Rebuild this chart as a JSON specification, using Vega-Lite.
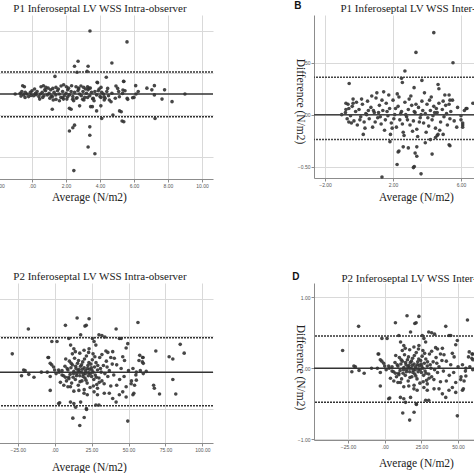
{
"$schema":"https://vega.github.io/schema/vega-lite/v6.json",
"padding":{"left":-14,"top":0,"right":0,"bottom":0},
"background":"white",
"bounds":"flush",
"columns":2,
"spacing":{"row":104,"column":101},
"config":{
 "view":{"stroke":null},
 "axis":{"gridColor":"#d9d9d9","gridWidth":1,"domainColor":"#8c8c8c","domainWidth":1,"tickColor":"#8c8c8c","tickSize":3,"labelFont":"Liberation Sans","labelFontSize":5,"labelColor":"#555","labelPadding":1,"labelOverlap":false,"labelFlush":false,"titleFont":"Liberation Serif","titleFontSize":11.5,"titleFontWeight":"normal","titleColor":"#222"},
 "title":{"font":"Liberation Serif","fontSize":11,"fontWeight":"normal","color":"#222","offset":1}
},
"datasets":{
 "A":[{"x":3.41,"y":0.75},{"x":5.59,"y":0.62},{"x":2.71,"y":0.39},{"x":2.5,"y":0.33},{"x":3.3,"y":0.33},{"x":4.7,"y":0.37},{"x":3.24,"y":0.27},{"x":2.65,"y":0.26},{"x":1.35,"y":0.21},{"x":4.37,"y":0.2},{"x":5.4,"y":0.15},{"x":3.83,"y":0.14},
 {"x":1.19,"y":-0.18},{"x":2.2,"y":-0.17},{"x":2.3,"y":-0.18},{"x":2.8,"y":-0.14},{"x":3.45,"y":-0.15},{"x":3.55,"y":-0.15},{"x":3.8,"y":-0.2},{"x":4.05,"y":-0.14},{"x":4.76,"y":-0.25},{"x":5.15,"y":-0.2},{"x":5.25,"y":-0.21},{"x":4.1,"y":-0.29},{"x":5.3,"y":-0.32},{"x":5.4,"y":-0.33},{"x":7.24,"y":-0.29},{"x":2.5,"y":-0.37},{"x":2.4,"y":-0.4},{"x":2.2,"y":-0.44},{"x":3.4,"y":-0.39},{"x":3.4,"y":-0.49},{"x":3.3,"y":-0.63},{"x":3.7,"y":-0.71},{"x":2.46,"y":-0.91},
 {"x":6.76,"y":0.07},{"x":7.05,"y":0.05},{"x":7.2,"y":0.1},{"x":7.8,"y":0.05},{"x":7.2,"y":-0.01},{"x":7.65,"y":-0.06},{"x":8.24,"y":-0.09},{"x":9.0,"y":0.0},{"x":6.1,"y":0.1},{"x":6.25,"y":0.03},{"x":6.0,"y":-0.04},{"x":5.6,"y":-0.05},{"x":-0.99,"y":0.0},
 {"x":-0.55,"y":0.099},{"x":-0.45,"y":0.087},{"x":0.53,"y":0.087},{"x":0.67,"y":0.099},{"x":0.82,"y":0.079},{"x":1.22,"y":0.067},{"x":1.41,"y":0.079},{"x":1.71,"y":0.095},{"x":1.86,"y":0.111},{"x":2.02,"y":0.087},{"x":2.33,"y":0.099},{"x":2.59,"y":0.087},{"x":2.73,"y":0.071},{"x":2.88,"y":0.095},{"x":3.04,"y":0.079},{"x":3.27,"y":0.087},{"x":3.43,"y":0.071},{"x":3.86,"y":0.135},{"x":4.06,"y":0.079},{"x":4.45,"y":0.067},{"x":4.94,"y":0.095},{"x":5.04,"y":0.067},{"x":5.35,"y":0.048},{"x":5.47,"y":0.04},{"x":5.39,"y":0.151},
 {"x":-0.65,"y":-0.024},{"x":-0.41,"y":-0.04},{"x":-0.06,"y":-0.016},{"x":0.24,"y":-0.008},{"x":0.63,"y":-0.04},{"x":1.12,"y":-0.024},{"x":1.41,"y":-0.063},{"x":1.61,"y":-0.079},{"x":1.8,"y":-0.044},{"x":2.1,"y":-0.032},{"x":2.39,"y":-0.063},{"x":2.65,"y":-0.044},{"x":2.98,"y":-0.063},{"x":3.27,"y":-0.04},{"x":3.57,"y":-0.055},{"x":4.06,"y":-0.04},{"x":4.25,"y":-0.032},{"x":4.55,"y":-0.071},{"x":4.65,"y":-0.091},{"x":5.14,"y":-0.032},{"x":5.33,"y":0.008},{"x":5.63,"y":-0.063},{"x":5.92,"y":-0.044},{"x":6.12,"y":0.0},
 {"x":-0.7,"y":0.01},{"x":-0.6,"y":0.03},{"x":-0.5,"y":-0.01},{"x":-0.4,"y":0.02},{"x":-0.3,"y":0.0},{"x":-0.2,"y":-0.03},{"x":-0.1,"y":0.02},{"x":0.0,"y":0.04},{"x":0.1,"y":-0.02},{"x":0.2,"y":0.01},{"x":0.3,"y":0.03},{"x":0.4,"y":-0.03},{"x":0.5,"y":0.0},{"x":0.6,"y":0.02},{"x":0.7,"y":-0.02},{"x":0.8,"y":0.04},{"x":0.9,"y":-0.01},{"x":1.0,"y":0.01},{"x":1.1,"y":0.05},{"x":1.2,"y":-0.03},{"x":1.3,"y":0.02},{"x":1.4,"y":-0.01},{"x":1.5,"y":0.04},{"x":1.6,"y":0.0},{"x":1.7,"y":-0.04},{"x":1.8,"y":0.03},{"x":1.9,"y":-0.02},{"x":2.0,"y":0.01},{"x":2.1,"y":0.05},{"x":2.2,"y":-0.01},{"x":2.3,"y":0.03},{"x":2.4,"y":-0.03},{"x":2.5,"y":0.02},{"x":2.6,"y":-0.05},{"x":2.7,"y":0.04},{"x":2.8,"y":0.0},{"x":2.9,"y":-0.02},{"x":3.0,"y":0.03},{"x":3.1,"y":-0.04},{"x":3.2,"y":0.01},{"x":3.3,"y":0.05},{"x":3.4,"y":-0.02},{"x":3.5,"y":0.02},{"x":3.6,"y":-0.05},{"x":3.7,"y":0.03},{"x":3.8,"y":-0.01},{"x":3.9,"y":0.04},{"x":4.0,"y":-0.03},{"x":4.1,"y":0.02},{"x":4.2,"y":0.0},{"x":4.3,"y":-0.05},{"x":4.4,"y":0.03},{"x":4.5,"y":-0.02},{"x":4.7,"y":0.01},{"x":4.9,"y":-0.05},{"x":5.1,"y":0.03},
 {"x":0.15,"y":0.06},{"x":0.45,"y":-0.06},{"x":0.95,"y":0.07},{"x":1.25,"y":-0.07},{"x":1.55,"y":0.06},{"x":1.85,"y":-0.06},{"x":2.15,"y":0.07},{"x":2.45,"y":-0.08},{"x":2.75,"y":0.06},{"x":3.05,"y":-0.07},{"x":3.35,"y":0.07},{"x":3.65,"y":-0.08},{"x":3.95,"y":0.06},{"x":4.25,"y":-0.07},{"x":1.05,"y":-0.05},{"x":2.05,"y":-0.06},{"x":3.15,"y":0.06},{"x":0.75,"y":0.05}],
 "A_lines":[{"y":0.0,"k":"mean"},{"y":0.262,"k":"limit"},{"y":-0.27,"k":"limit"}],
 "B":[{"x":4.4,"y":0.79},{"x":3.35,"y":0.6},{"x":5.53,"y":0.5},{"x":2.7,"y":0.42},{"x":2.5,"y":0.35},{"x":2.55,"y":0.31},{"x":3.7,"y":0.33},{"x":-0.58,"y":0.3},{"x":4.65,"y":0.29},{"x":4.7,"y":0.25},{"x":3.24,"y":0.26},{"x":5.3,"y":0.19},{"x":5.35,"y":0.14},{"x":5.3,"y":0.1},{"x":6.7,"y":0.11},{"x":6.3,"y":0.06},{"x":6.35,"y":0.06},
 {"x":1.82,"y":-0.26},{"x":2.3,"y":-0.36},{"x":2.35,"y":-0.35},{"x":2.24,"y":-0.48},{"x":2.6,"y":-0.31},{"x":2.9,"y":-0.32},{"x":3.3,"y":-0.37},{"x":3.4,"y":-0.31},{"x":3.4,"y":-0.4},{"x":3.2,"y":-0.51},{"x":3.25,"y":-0.5},{"x":3.65,"y":-0.57},{"x":1.35,"y":-0.6},{"x":3.9,"y":-0.27},{"x":4.3,"y":-0.38},{"x":4.2,"y":-0.24},{"x":4.5,"y":-0.22},{"x":4.6,"y":-0.2},{"x":5.3,"y":-0.29},{"x":5.35,"y":-0.3},{"x":4.95,"y":-0.19},{"x":6.1,"y":-0.1},{"x":6.1,"y":-0.12},{"x":6.0,"y":-0.05},{"x":-1.02,"y":0.0},{"x":-0.77,"y":0.11},{"x":-0.77,"y":0.05},{"x":-0.6,"y":-0.07},{"x":-0.35,"y":0.15},{"x":-0.35,"y":0.11},{"x":0.25,"y":-0.19},
 {"x":-0.8,"y":0.02},{"x":-0.7,"y":-0.04},{"x":-0.6,"y":0.06},{"x":-0.5,"y":-0.01},{"x":-0.4,"y":0.08},{"x":-0.3,"y":-0.06},{"x":-0.2,"y":0.03},{"x":-0.1,"y":-0.1},{"x":0.0,"y":0.05},{"x":0.1,"y":-0.02},{"x":0.2,"y":0.1},{"x":0.3,"y":-0.07},{"x":0.4,"y":0.01},{"x":0.5,"y":0.13},{"x":0.6,"y":-0.04},{"x":0.7,"y":0.07},{"x":0.8,"y":-0.12},{"x":0.9,"y":0.02},{"x":1.0,"y":0.16},{"x":1.1,"y":-0.03},{"x":1.2,"y":0.09},{"x":1.3,"y":-0.09},{"x":1.4,"y":0.04},{"x":1.5,"y":-0.15},{"x":1.6,"y":0.11},{"x":1.7,"y":-0.01},{"x":1.8,"y":0.06},{"x":1.9,"y":-0.08},{"x":2.0,"y":0.14},{"x":2.1,"y":0.0},{"x":2.2,"y":-0.12},{"x":2.3,"y":0.08},{"x":2.4,"y":-0.05},{"x":2.5,"y":0.03},{"x":2.6,"y":-0.17},{"x":2.7,"y":0.12},{"x":2.8,"y":-0.02},{"x":2.9,"y":0.05},{"x":3.0,"y":-0.1},{"x":3.1,"y":0.09},{"x":3.2,"y":-0.06},{"x":3.3,"y":0.02},{"x":3.4,"y":-0.14},{"x":3.5,"y":0.07},{"x":3.6,"y":-0.03},{"x":3.7,"y":0.13},{"x":3.8,"y":-0.08},{"x":3.9,"y":0.01},{"x":4.0,"y":0.1},{"x":4.1,"y":-0.11},{"x":4.2,"y":0.04},{"x":4.3,"y":-0.05},{"x":4.4,"y":0.08},{"x":4.5,"y":-0.13},{"x":4.6,"y":0.02},{"x":4.7,"y":0.11},{"x":4.8,"y":-0.07},{"x":4.9,"y":0.05},{"x":5.0,"y":-0.02},{"x":5.1,"y":0.09},{"x":5.2,"y":-0.1},{"x":5.4,"y":0.03},{"x":5.6,"y":-0.06},{"x":5.8,"y":0.07},{"x":6.0,"y":-0.01},{"x":6.2,"y":0.04},
 {"x":-0.65,"y":0.1},{"x":-0.45,"y":-0.08},{"x":-0.15,"y":0.12},{"x":0.15,"y":0.15},{"x":0.35,"y":-0.13},{"x":0.55,"y":0.04},{"x":0.75,"y":0.18},{"x":0.95,"y":-0.07},{"x":1.15,"y":0.02},{"x":1.35,"y":0.14},{"x":1.55,"y":-0.05},{"x":1.75,"y":0.19},{"x":1.95,"y":-0.13},{"x":2.15,"y":0.06},{"x":2.35,"y":0.17},{"x":2.55,"y":-0.09},{"x":2.75,"y":0.0},{"x":2.95,"y":0.15},{"x":3.15,"y":-0.16},{"x":3.35,"y":0.1},{"x":3.55,"y":-0.07},{"x":3.75,"y":0.04},{"x":3.95,"y":-0.17},{"x":4.15,"y":0.14},{"x":4.35,"y":-0.01},{"x":4.55,"y":0.06},{"x":4.75,"y":-0.15},{"x":4.95,"y":0.13},{"x":5.15,"y":0.01},{"x":5.35,"y":-0.04},{"x":0.05,"y":-0.05},{"x":0.45,"y":0.0},{"x":0.85,"y":0.04},{"x":1.25,"y":-0.02},{"x":1.65,"y":0.03},{"x":2.05,"y":-0.04},{"x":2.45,"y":0.01},{"x":2.85,"y":-0.05},{"x":3.25,"y":0.03},{"x":3.65,"y":0.0},{"x":4.05,"y":-0.03},{"x":4.45,"y":0.02},{"x":1.05,"y":0.21},{"x":1.45,"y":0.22},{"x":2.25,"y":0.2},{"x":3.05,"y":0.18},{"x":3.85,"y":0.21},{"x":4.25,"y":0.17},{"x":5.05,"y":0.19},{"x":5.5,"y":0.14},{"x":1.85,"y":-0.19},{"x":2.65,"y":-0.2},{"x":3.45,"y":-0.21},{"x":4.65,"y":-0.19},{"x":5.75,"y":-0.12},{"x":6.1,"y":-0.08}],
 "B_lines":[{"y":0.0,"k":"mean"},{"y":0.36,"k":"limit"},{"y":-0.24,"k":"limit"}],
 "P2":[{"x":15.2,"y":0.74},{"x":23.3,"y":0.73},{"x":7.3,"y":0.64},{"x":20.5,"y":0.63},{"x":21.4,"y":0.64},{"x":-17.8,"y":0.59},{"x":56.4,"y":0.68},{"x":41.6,"y":0.59},{"x":-28.7,"y":0.25},{"x":85,"y":0.38},{"x":87.7,"y":0.26},{"x":77.5,"y":0.21},{"x":80,"y":0.18},{"x":68.5,"y":0.29},{"x":59.6,"y":0.2},{"x":60,"y":0.12},{"x":80,"y":-0.1},{"x":82,"y":-0.3},{"x":71,"y":-0.3},{"x":67,"y":-0.18},{"x":67.5,"y":-0.22},{"x":49.5,"y":-0.67},{"x":17,"y":-0.73},{"x":12.3,"y":-0.63},{"x":20,"y":-0.62},{"x":21.6,"y":-0.51},{"x":-3,"y":-0.25},{"x":3.4,"y":-0.42},{"x":-22.4,"y":-0.05},{"x":-14,"y":-0.07},{"x":-21,"y":0.03},{"x":-20,"y":0.02},{"x":-17.5,"y":-0.03},{"x":-9,"y":0.0},{"x":-4.5,"y":0.2},{"x":-1.9,"y":0.42},{"x":1.6,"y":0.42},{"x":-2,"y":0.1},
 {"x":9.6,"y":0.46},{"x":17.6,"y":0.51},{"x":25.6,"y":0.46},{"x":26.7,"y":0.42},{"x":30,"y":0.51},{"x":32,"y":0.5},{"x":34,"y":0.48},{"x":43.8,"y":0.46},{"x":45,"y":0.46},{"x":49.5,"y":0.39},{"x":48.4,"y":0.33},{"x":10.8,"y":0.37},{"x":13,"y":0.32},{"x":19.9,"y":0.3},{"x":23.3,"y":0.32},{"x":27.9,"y":0.37},{"x":34.7,"y":0.29},{"x":39.3,"y":0.28},{"x":40.4,"y":0.19},{"x":46.1,"y":0.21},{"x":47.3,"y":0.16},{"x":57.6,"y":0.23},{"x":59.8,"y":0.2},{"x":59.4,"y":0.14},{"x":57.1,"y":0.16},{"x":53,"y":0.05},{"x":55.3,"y":0.0},{"x":-4.1,"y":0.2},{"x":-3,"y":0.12},{"x":-0.7,"y":0.07},{"x":2.7,"y":0.03},{"x":5,"y":-0.04},{"x":7.3,"y":-0.07},{"x":9.6,"y":-0.09},{"x":3.9,"y":-0.14},{"x":6.2,"y":-0.18},{"x":10.7,"y":-0.2},{"x":13,"y":-0.26},{"x":16.4,"y":-0.25},{"x":19.9,"y":-0.29},{"x":22.1,"y":-0.31},{"x":26.7,"y":-0.27},{"x":29,"y":-0.31},{"x":33.6,"y":-0.29},{"x":37,"y":-0.29},{"x":39.3,"y":-0.36},{"x":41.6,"y":-0.41},{"x":43.8,"y":-0.31},{"x":46.1,"y":-0.27},{"x":48.4,"y":-0.2},{"x":51.8,"y":-0.16},{"x":54.1,"y":-0.18},{"x":55.3,"y":-0.11},{"x":53,"y":-0.31},{"x":53.6,"y":-0.29},{"x":48.4,"y":-0.34},{"x":10.7,"y":-0.41},{"x":13,"y":-0.43},{"x":17.6,"y":-0.41},{"x":27.9,"y":-0.45},{"x":30,"y":-0.45},{"x":2.7,"y":-0.43},{"x":21.5,"y":-0.5},{"x":14.2,"y":-0.48},{"x":58,"y":0.02},{"x":60,"y":-0.02},{"x":62,"y":0.01},{"x":55,"y":-0.04},
 {"x":5,"y":0.02},{"x":6,"y":-0.05},{"x":7,"y":0.08},{"x":8,"y":-0.12},{"x":9,"y":0.03},{"x":10,"y":0.15},{"x":10.5,"y":-0.03},{"x":11,"y":0.06},{"x":11.5,"y":-0.15},{"x":12,"y":0.1},{"x":12.5,"y":-0.07},{"x":13,"y":0.01},{"x":13.5,"y":0.19},{"x":14,"y":-0.1},{"x":14.5,"y":0.05},{"x":15,"y":-0.02},{"x":15.5,"y":0.12},{"x":16,"y":-0.18},{"x":16.5,"y":0.04},{"x":17,"y":-0.05},{"x":17.5,"y":0.08},{"x":18,"y":0.0},{"x":18.5,"y":-0.12},{"x":19,"y":0.14},{"x":19.5,"y":-0.03},{"x":20,"y":0.06},{"x":20.5,"y":-0.08},{"x":21,"y":0.02},{"x":21.5,"y":0.22},{"x":22,"y":-0.15},{"x":22.5,"y":0.09},{"x":23,"y":-0.01},{"x":23.5,"y":0.04},{"x":24,"y":-0.21},{"x":24.5,"y":0.11},{"x":25,"y":-0.06},{"x":25.5,"y":0.17},{"x":26,"y":0.0},{"x":26.5,"y":-0.1},{"x":27,"y":0.07},{"x":27.5,"y":-0.04},{"x":28,"y":0.13},{"x":28.5,"y":-0.17},{"x":29,"y":0.03},{"x":30,"y":-0.08},{"x":30.5,"y":0.2},{"x":31,"y":0.05},{"x":32,"y":-0.12},{"x":33,"y":0.09},{"x":34,"y":-0.02},{"x":35,"y":0.15},{"x":36,"y":-0.06},{"x":37,"y":0.02},{"x":38,"y":-0.19},{"x":39,"y":0.11},{"x":40,"y":-0.04},
 {"x":8.5,"y":0.05},{"x":9.5,"y":-0.07},{"x":11.2,"y":0.12},{"x":12.8,"y":-0.02},{"x":14.2,"y":0.08},{"x":15.8,"y":0.02},{"x":16.2,"y":0.16},{"x":17.2,"y":-0.13},{"x":18.2,"y":0.1},{"x":19.2,"y":-0.06},{"x":20.2,"y":0.18},{"x":21.2,"y":-0.11},{"x":22.2,"y":0.05},{"x":23.2,"y":0.13},{"x":24.2,"y":-0.02},{"x":25.2,"y":0.03},{"x":26.2,"y":-0.19},{"x":27.2,"y":0.21},{"x":28.2,"y":-0.07},{"x":29.2,"y":0.09},{"x":30.2,"y":-0.14},{"x":31.5,"y":0.0},{"x":33.5,"y":-0.16},{"x":35.5,"y":0.07},{"x":18.8,"y":0.04},{"x":20.8,"y":-0.02},{"x":22.8,"y":-0.05},{"x":16.8,"y":0.0},{"x":14.8,"y":-0.05},{"x":24.8,"y":0.06},
 {"x":7.5,"y":0.18},{"x":9,"y":-0.2},{"x":12,"y":0.25},{"x":14,"y":0.28},{"x":17,"y":0.26},{"x":20,"y":-0.24},{"x":23,"y":0.27},{"x":26,"y":0.25},{"x":29,"y":-0.22},{"x":32,"y":0.24},{"x":36,"y":0.27},{"x":38,"y":0.2},{"x":42,"y":0.1},{"x":44,"y":-0.1},{"x":42,"y":-0.18},{"x":45,"y":0.05},{"x":47,"y":-0.06},{"x":50,"y":0.02},{"x":52,"y":-0.12},{"x":3,"y":0.0},{"x":1,"y":-0.02},{"x":0,"y":0.03},{"x":-3,"y":-0.06},{"x":-5,"y":0.0}],
 "C_lines":[{"y":0.0,"k":"mean"},{"y":0.47,"k":"limit"},{"y":-0.46,"k":"limit"}],
 "D_lines":[{"y":0.0,"k":"mean"},{"y":0.455,"k":"limit"},{"y":-0.48,"k":"limit"}]
},
"concat":[
  {"width":226,"height":164,"title":{"text":"P1 Inferoseptal LV WSS Intra-observer"},
   "layer":[
    {"data":{"name":"A"},"mark":{"type":"circle","size":13,"color":"#333","opacity":0.9},
     "encoding":{
      "x":{"field":"x","type":"quantitative","scale":{"domain":[-2.65,10.65],"nice":false,"zero":false},"axis":{"values":[-2,0,2,4,6,8,10],"labelOverlap":false,"labelExpr":"replace(format(datum.value,'.2f'),regexp('^(-?)0[.]'),'$1.')","title":"Average (N/m2)","titleX":102,"titleY":18,"titleAlign":"center","titleBaseline":"middle"}},
      "y":{"field":"y","type":"quantitative","scale":{"domain":[-1.01,0.94],"nice":false,"zero":false},"axis":{"values":[-0.75,-0.5,-0.25,0,0.25,0.5,0.75],"labels":false,"ticks":false,"domain":false,"title":null}}}},
    {"data":{"name":"A_lines"},"mark":{"type":"rule","color":"#333","strokeWidth":1.5},
     "encoding":{"y":{"field":"y","type":"quantitative","scale":{"domain":[-1.01,0.94],"nice":false,"zero":false}},
      "strokeDash":{"field":"k","type":"nominal","scale":{"domain":["mean","limit"],"range":[[1,0],[2,1]]},"legend":null}}}
   ]},
  {"width":226,"height":163,"title":{"text":"P1 Inferoseptal LV WSS Inter-observer","offset":-13},
   "layer":[
    {"data":{"name":"B"},"mark":{"type":"circle","size":13,"color":"#333","opacity":0.9},
     "encoding":{
      "x":{"field":"x","type":"quantitative","scale":{"domain":[-2.65,10.65],"nice":false,"zero":false},"axis":{"values":[-2,0,2,4,6,8,10],"labelOverlap":false,"labelExpr":"replace(format(datum.value,'.2f'),regexp('^(-?)0[.]'),'$1.')","title":"Average (N/m2)","titleX":102,"titleY":19,"titleAlign":"center","titleBaseline":"middle"}},
      "y":{"field":"y","type":"quantitative","scale":{"domain":[-0.61,0.96],"nice":false,"zero":false},"axis":{"values":[-0.5,-0.25,0,0.25,0.5,0.75],"labelOverlap":false,"labelExpr":"replace(format(datum.value,'.2f'),regexp('^(-?)0[.]'),'$1.')","title":"Difference (N/m2)","titleAngle":90,"titleX":-15,"titleY":86,"titleAlign":"center","titleBaseline":"middle"}}}},
    {"data":{"name":"B_lines"},"mark":{"type":"rule","color":"#444","strokeWidth":1.5},
     "encoding":{"y":{"field":"y","type":"quantitative","scale":{"domain":[-0.61,0.96],"nice":false,"zero":false}},
      "strokeDash":{"field":"k","type":"nominal","scale":{"domain":["mean","limit"],"range":[[1,0],[2,1]]},"legend":null}}},
    {"data":{"values":[{}]},"mark":{"type":"text","text":"B","font":"Liberation Sans","fontWeight":"bold","fontSize":10,"color":"#111","align":"center","baseline":"middle"},
     "encoding":{"x":{"datum":-3.6,"type":"quantitative","scale":{"domain":[-2.65,10.65],"nice":false,"zero":false}},"y":{"datum":1.05,"type":"quantitative","scale":{"domain":[-0.61,0.96],"nice":false,"zero":false}}}}
   ]},
  {"width":226,"height":160,"title":{"text":"P2 Inferoseptal LV WSS Intra-observer"},
   "layer":[
    {"data":{"name":"P2"},"mark":{"type":"circle","size":13,"color":"#333","opacity":0.9},
     "encoding":{
      "x":{"field":"x","type":"quantitative","scale":{"domain":[-45.8,107.2],"nice":false,"zero":false},"axis":{"values":[-25,0,25,50,75,100],"labelOverlap":false,"labelExpr":"replace(format(datum.value,'.2f'),regexp('^(-?)0[.]'),'$1.')","title":"Average (N/m2)","titleX":102,"titleY":24,"titleAlign":"center","titleBaseline":"middle"}},
      "y":{"field":"y","type":"quantitative","scale":{"domain":[-0.97,1.22],"nice":false,"zero":false},"axis":{"values":[-1,-0.5,0,0.5,1],"labels":false,"ticks":false,"domain":false,"title":null}}}},
    {"data":{"name":"C_lines"},"mark":{"type":"rule","color":"#333","strokeWidth":1.5},
     "encoding":{"y":{"field":"y","type":"quantitative","scale":{"domain":[-0.97,1.22],"nice":false,"zero":false}},
      "strokeDash":{"field":"k","type":"nominal","scale":{"domain":["mean","limit"],"range":[[1,0],[2,1]]},"legend":null}}}
   ]},
  {"width":228,"height":157,"title":{"text":"P2 Inferoseptal LV WSS Inter-observer","offset":-12},
   "layer":[
    {"data":{"name":"P2"},"mark":{"type":"circle","size":13,"color":"#333","opacity":0.9},
     "encoding":{
      "x":{"field":"x","type":"quantitative","scale":{"domain":[-48.2,107.2],"nice":false,"zero":false},"axis":{"values":[-25,0,25,50,75,100],"labelOverlap":false,"labelExpr":"replace(format(datum.value,'.2f'),regexp('^(-?)0[.]'),'$1.')","title":"Average (N/m2)","titleX":102,"titleY":23,"titleAlign":"center","titleBaseline":"middle"}},
      "y":{"field":"y","type":"quantitative","scale":{"domain":[-1.01,1.2],"nice":false,"zero":false},"axis":{"values":[-1,-0.5,0,0.5,1],"labelOverlap":false,"labelExpr":"replace(format(datum.value,'.2f'),regexp('^(-?)0[.]'),'$1.')","title":"Difference (N/m2)","titleAngle":90,"titleX":-15,"titleY":84,"titleAlign":"center","titleBaseline":"middle"}}}},
    {"data":{"name":"D_lines"},"mark":{"type":"rule","color":"#333","strokeWidth":1.5},
     "encoding":{"y":{"field":"y","type":"quantitative","scale":{"domain":[-1.01,1.2],"nice":false,"zero":false}},
      "strokeDash":{"field":"k","type":"nominal","scale":{"domain":["mean","limit"],"range":[[1,0],[2,1]]},"legend":null}}},
    {"data":{"values":[{}]},"mark":{"type":"text","text":"D","font":"Liberation Sans","fontWeight":"bold","fontSize":10,"color":"#111","align":"center","baseline":"middle"},
     "encoding":{"x":{"datum":-60.5,"type":"quantitative","scale":{"domain":[-48.2,107.2],"nice":false,"zero":false}},"y":{"datum":1.285,"type":"quantitative","scale":{"domain":[-1.01,1.2],"nice":false,"zero":false}}}}
   ]}
]
}
